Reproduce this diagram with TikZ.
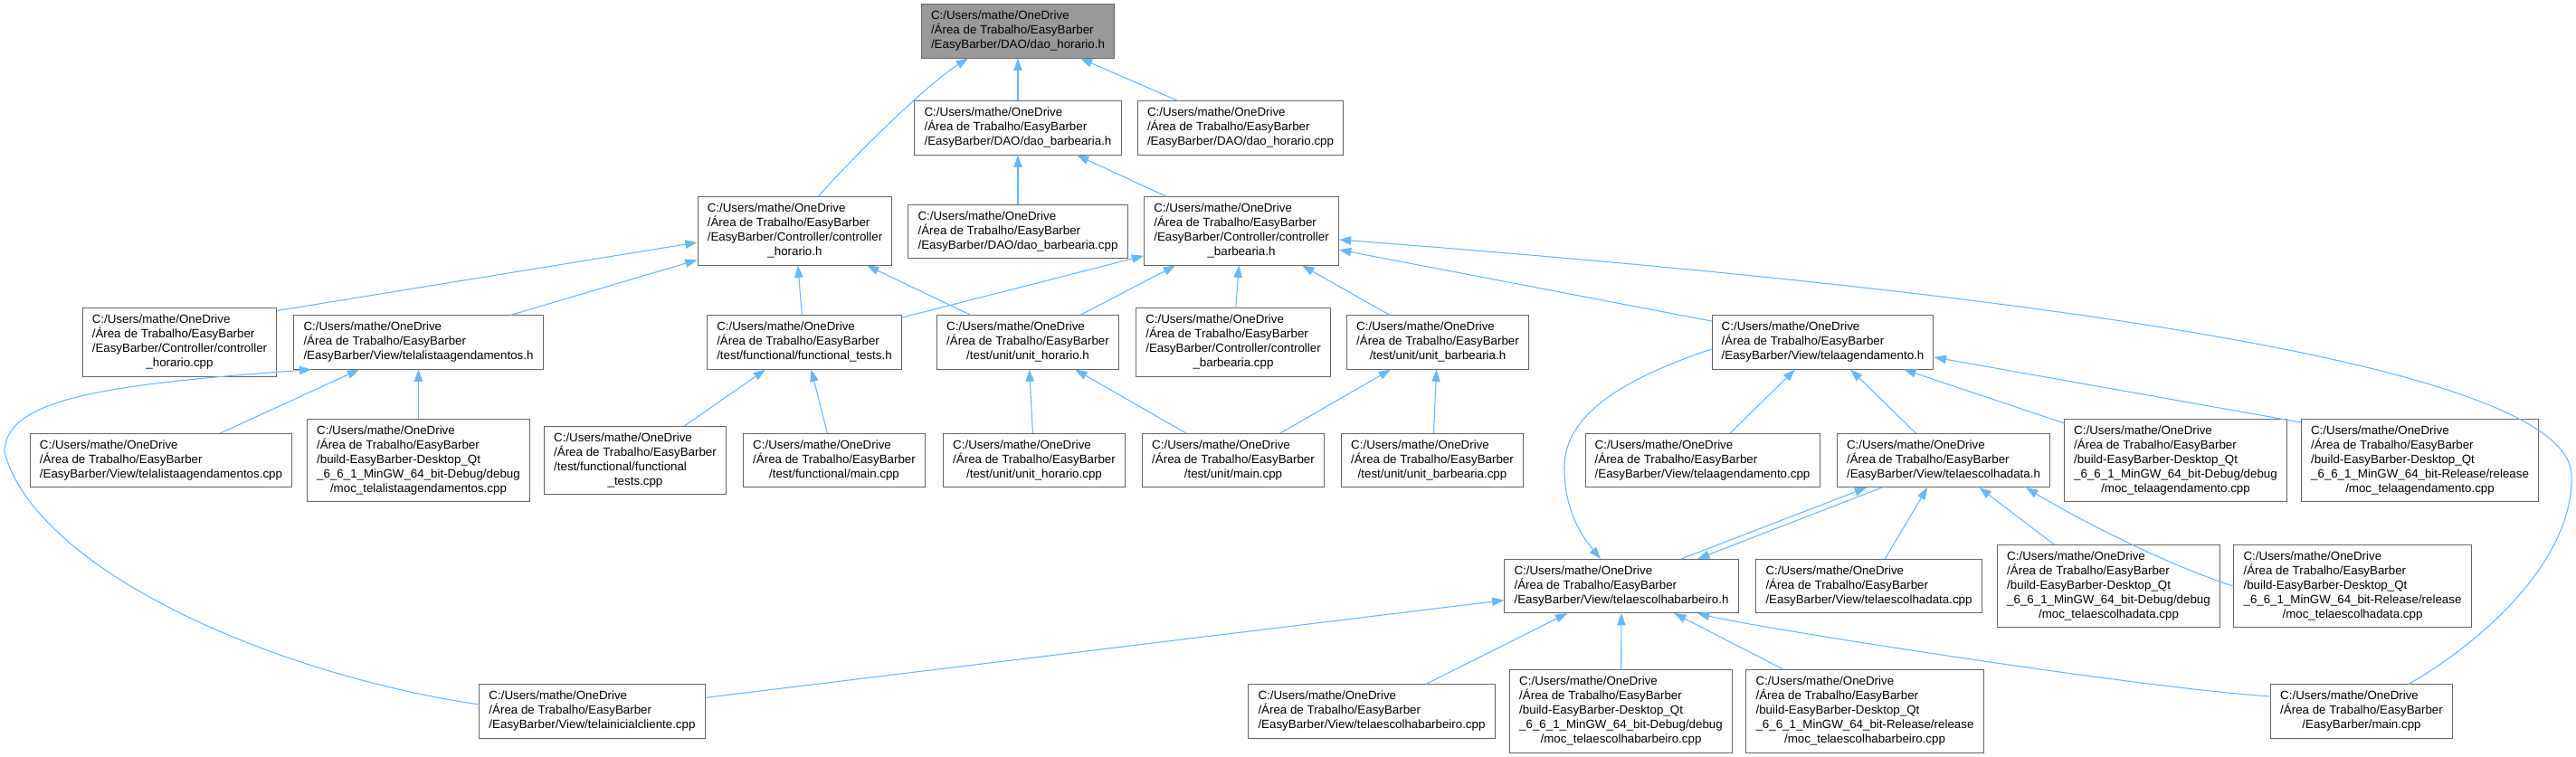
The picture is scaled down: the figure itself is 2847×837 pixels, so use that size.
\documentclass[tikz,border=0pt]{standalone}
\usepackage{fontspec}
\setmainfont{Liberation Sans}
\usetikzlibrary{calc, arrows.meta}

\definecolor{edgeblue}{HTML}{63B8FF}
\definecolor{boxgray}{HTML}{666666}
\definecolor{rootfill}{HTML}{999999}

% first two lines are the same in every box, last line is centred
\newcommand{\fpath}[2]{%
  \begin{tabular}{@{}l@{}}C:/Users/mathe/OneDrive\\/Área de Trabalho/EasyBarber\\#1\multicolumn{1}{@{}c@{}}{#2}\end{tabular}}

\tikzset{
  file/.style={draw=boxgray, fill=white, line width=0.75pt, inner xsep=8pt, inner ysep=4pt,
    font=\fontsize{10}{12}\selectfont},
  rootfile/.style={file, fill=rootfill},
  dep/.style={draw=edgeblue, line width=0.8pt, -{Triangle[length=10pt,width=7pt,fill=edgeblue]}},
}

\begin{document}
\begin{tikzpicture}[x=0.75pt, y=-0.75pt]
  \useasboundingbox (0,0) rectangle (2847,837);

  \node[rootfile] (root) at (1125,34.5) {\fpath{}{/EasyBarber/DAO/dao\_horario.h}};

  \node[file] (daobarbh) at (1125,141.5) {\fpath{}{/EasyBarber/DAO/dao\_barbearia.h}};
  \node[file] (daohorcpp) at (1371,141.5) {\fpath{}{/EasyBarber/DAO/dao\_horario.cpp}};

  \node[file] (ctrlhorh) at (878.5,255.5) {\fpath{/EasyBarber/Controller/controller\\}{\_horario.h}};
  \node[file] (daobarbcpp) at (1125,256) {\fpath{}{/EasyBarber/DAO/dao\_barbearia.cpp}};
  \node[file] (ctrlbarbh) at (1372,255.5) {\fpath{/EasyBarber/Controller/controller\\}{\_barbearia.h}};

  \node[file] (ctrlhorcpp) at (198.5,378.5) {\fpath{/EasyBarber/Controller/controller\\}{\_horario.cpp}};
  \node[file] (listah) at (462.5,378.5) {\fpath{}{/EasyBarber/View/telalistaagendamentos.h}};
  \node[file] (functh) at (889,378.5) {\fpath{}{/test/functional/functional\_tests.h}};
  \node[file] (unithorh) at (1136,378.5) {\fpath{}{/test/unit/unit\_horario.h}};
  \node[file] (ctrlbarbcpp) at (1363,378.5) {\fpath{/EasyBarber/Controller/controller\\}{\_barbearia.cpp}};
  \node[file] (unitbarbh) at (1589,378.5) {\fpath{}{/test/unit/unit\_barbearia.h}};
  \node[file] (agendh) at (2014.5,378.5) {\fpath{}{/EasyBarber/View/telaagendamento.h}};

  \node[file] (listacpp) at (178,509) {\fpath{}{/EasyBarber/View/telalistaagendamentos.cpp}};
  \node[file] (moclista) at (462.5,509) {\fpath{/build-EasyBarber-Desktop\_Qt\\\_6\_6\_1\_MinGW\_64\_bit-Debug/debug\\}{/moc\_telalistaagendamentos.cpp}};
  \node[file] (functcpp) at (702,509) {\fpath{/test/functional/functional\\}{\_tests.cpp}};
  \node[file] (functmain) at (922,509) {\fpath{}{/test/functional/main.cpp}};
  \node[file] (unithorcpp) at (1143,509) {\fpath{}{/test/unit/unit\_horario.cpp}};
  \node[file] (unitmain) at (1363,509) {\fpath{}{/test/unit/main.cpp}};
  \node[file] (unitbarbcpp) at (1583,509) {\fpath{}{/test/unit/unit\_barbearia.cpp}};
  \node[file] (agendcpp) at (1881.5,509) {\fpath{}{/EasyBarber/View/telaagendamento.cpp}};
  \node[file] (datah) at (2148,509) {\fpath{}{/EasyBarber/View/telaescolhadata.h}};
  \node[file] (mocagdbg) at (2404.5,509) {\fpath{/build-EasyBarber-Desktop\_Qt\\\_6\_6\_1\_MinGW\_64\_bit-Debug/debug\\}{/moc\_telaagendamento.cpp}};
  \node[file] (mocagrel) at (2674.5,509) {\fpath{/build-EasyBarber-Desktop\_Qt\\\_6\_6\_1\_MinGW\_64\_bit-Release/release\\}{/moc\_telaagendamento.cpp}};

  \node[file] (barbh) at (1792,648) {\fpath{}{/EasyBarber/View/telaescolhabarbeiro.h}};
  \node[file] (datacpp) at (2065.5,648) {\fpath{}{/EasyBarber/View/telaescolhadata.cpp}};
  \node[file] (mocdtdbg) at (2330.5,648) {\fpath{/build-EasyBarber-Desktop\_Qt\\\_6\_6\_1\_MinGW\_64\_bit-Debug/debug\\}{/moc\_telaescolhadata.cpp}};
  \node[file] (mocdtrel) at (2600,648) {\fpath{/build-EasyBarber-Desktop\_Qt\\\_6\_6\_1\_MinGW\_64\_bit-Release/release\\}{/moc\_telaescolhadata.cpp}};

  \node[file] (inicialcpp) at (654.5,786.5) {\fpath{}{/EasyBarber/View/telainicialcliente.cpp}};
  \node[file] (barbcpp) at (1516,786.5) {\fpath{}{/EasyBarber/View/telaescolhabarbeiro.cpp}};
  \node[file] (mocbbdbg) at (1791.5,786.5) {\fpath{/build-EasyBarber-Desktop\_Qt\\\_6\_6\_1\_MinGW\_64\_bit-Debug/debug\\}{/moc\_telaescolhabarbeiro.cpp}};
  \node[file] (mocbbrel) at (2061,786.5) {\fpath{/build-EasyBarber-Desktop\_Qt\\\_6\_6\_1\_MinGW\_64\_bit-Release/release\\}{/moc\_telaescolhabarbeiro.cpp}};
  \node[file] (maincpp) at (2610,786.5) {\fpath{}{/EasyBarber/main.cpp}};

  % includes of the DAO headers
  \draw[dep] (daobarbh) -- (root);
  \draw[dep] (daohorcpp) -- (root);
  \draw[dep] ($(ctrlhorh.north)+(25.5,0)$) .. controls +(40,-45) and +(-45,28) .. ($(root.south)+(-55,0)$);
  \draw[dep] (daobarbcpp) -- (daobarbh);
  \draw[dep] (ctrlbarbh) -- (daobarbh);

  % controllers
  \draw[dep] ($(ctrlhorcpp.north east)+(0,3)$) -- ($(ctrlhorh.west)+(0,12.5)$);
  \draw[dep] (listah) -- (ctrlhorh);
  \draw[dep] (functh) -- (ctrlhorh);
  \draw[dep] (unithorh) -- (ctrlhorh);
  \draw[dep] (functh) -- (ctrlbarbh);
  \draw[dep] (unithorh) -- (ctrlbarbh);
  \draw[dep] (ctrlbarbcpp) -- (ctrlbarbh);
  \draw[dep] (unitbarbh) -- (ctrlbarbh);
  \draw[dep] (agendh) -- (ctrlbarbh);
  \draw[dep] ($(maincpp.north)+(52,0)$) .. controls +(98,-57) and (2845,610) .. (2842,525)
    .. controls (2838,400) and (2200,320) .. ($(ctrlbarbh.east)+(0,9.5)$);

  % views and tests
  \draw[dep] (listacpp) -- (listah);
  \draw[dep] (moclista) -- (listah);
  \draw[dep] ($(inicialcpp.west)+(0,-7.5)$) .. controls (300,745) and (40,630) .. (5,500)
    .. controls (5,440) and (120,425) .. ($(listah.south west)+(20,0)$);
  \draw[dep] (functcpp) -- (functh);
  \draw[dep] (functmain) -- (functh);
  \draw[dep] (unithorcpp) -- (unithorh);
  \draw[dep] (unitmain) -- (unithorh);
  \draw[dep] (unitmain) -- (unitbarbh);
  \draw[dep] (unitbarbcpp) -- (unitbarbh);
  \draw[dep] (agendcpp) -- (agendh);
  \draw[dep] (datah) -- (agendh);
  \draw[dep] (mocagdbg) -- (agendh);
  \draw[dep] ($(mocagrel.north west)+(0,4)$) -- ($(agendh.east)+(0,16.5)$);
  \draw[dep] ($(agendh.west)+(0,7.5)$) .. controls (1790,420) and (1730,460) .. (1729,515)
    .. controls (1728,565) and (1750,595) .. ($(barbh.north)+(-23,0)$);

  \draw[dep] ($(barbh.north)+(66,0)$) -- ($(datah.south)+(-85,0)$);
  \draw[dep] ($(datah.south)+(-68,0)$) -- ($(barbh.north)+(84,0)$);
  \draw[dep] (datacpp) -- (datah);
  \draw[dep] (mocdtdbg) -- (datah);
  \draw[dep] (mocdtrel.west) .. controls +(-80,-25) and +(40,25) .. ($(datah.south east)+(-27,0)$);

  \draw[dep] (barbcpp) -- (barbh);
  \draw[dep] (mocbbdbg) -- (barbh);
  \draw[dep] (mocbbrel) -- (barbh);
  \draw[dep] ($(maincpp.west)+(0,-16.5)$) .. controls +(-150,-10) and +(60,15) .. ($(barbh.south)+(84,0)$);
  \draw[dep] (inicialcpp) -- (barbh);
\end{tikzpicture}
\end{document}
